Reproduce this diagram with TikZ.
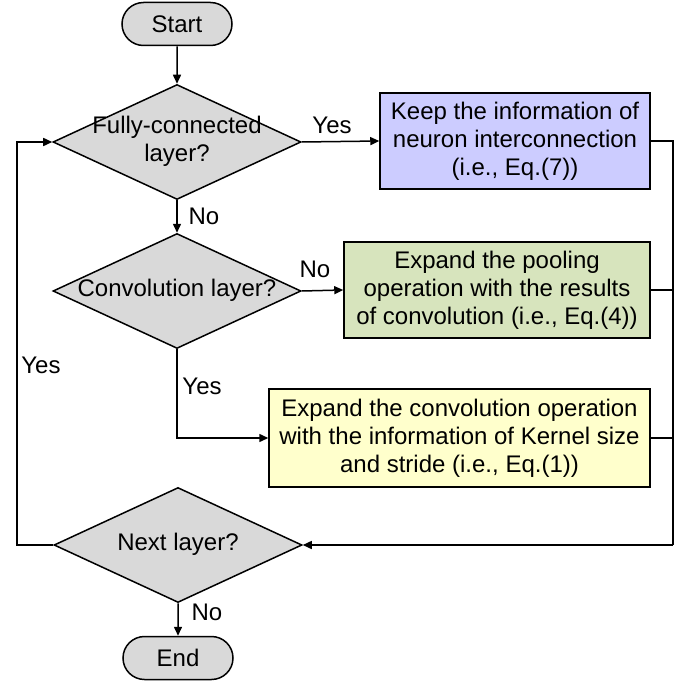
\documentclass[tikz,border=0pt]{standalone}
\usepackage{fontspec}
\setmainfont{Liberation Sans}
\usetikzlibrary{shapes.geometric,shapes.misc,arrows.meta}
\definecolor{gfill}{RGB}{217,217,217}
\definecolor{bfill}{RGB}{204,204,255}
\definecolor{grfill}{RGB}{215,228,189}
\definecolor{yfill}{RGB}{255,255,204}
\newcommand\dtext[1]{\makebox[0pt]{\begin{tabular}{@{}c@{}}#1\end{tabular}}}
\tikzset{
  base/.style={draw=black, line width=1.5bp, inner sep=0pt},
  term/.style={base, rounded rectangle, fill=gfill, minimum width=110bp, minimum height=43bp},
  dia/.style={base, diamond, fill=gfill, minimum width=248bp, minimum height=115bp},
  procbox/.style={base, rectangle, align=center},
  conn/.style={line width=1.5bp},
  arr/.style={conn, -{Triangle[length=9bp,width=8bp]}},
  lbl/.style={inner sep=0pt}
}
\begin{document}
\begin{tikzpicture}[x=1bp,y=-1bp, font=\fontsize{24bp}{28bp}\selectfont]
\useasboundingbox (0,0) rectangle (684,685);
\node[term] (start) at (177,24) {Start};
\node[dia] (d1) at (177,142) {\dtext{Fully-connected\\layer?}};
\node[procbox, fill=bfill, minimum width=270bp, minimum height=96bp] (blue) at (515,141)
  {Keep the information of\\neuron interconnection\\(i.e., Eq.(7))};
\node[dia] (d2) at (177,291) {\dtext{Convolution layer?}};
\node[procbox, fill=grfill, minimum width=306bp, minimum height=96bp] (green) at (497,290)
  {Expand the pooling\\operation with the results\\of convolution (i.e., Eq.(4))};
\node[procbox, fill=yfill, minimum width=381bp, minimum height=98bp] (yellow) at (459.5,438)
  {Expand the convolution operation\\with the information of Kernel size\\and stride (i.e., Eq.(1))};
\node[dia] (d3) at (178,545) {\dtext{Next layer?}};
\node[term] (end) at (178,658) {End};

\coordinate (rtop) at (673,141);
\coordinate (rbot) at (673,545);
\coordinate (ltop) at (17,142);
\coordinate (lbot) at (17,545);

\draw[arr] (start) -- (d1);
\draw[arr] (d1.east) -- (blue.west);
\draw[arr] (d1.south) -- (d2.north);
\draw[arr] (d2.east) -- (green.west);
\draw[arr] (d2.south) -- (d2.south |- yellow.west) -- (yellow.west);
\draw[conn] (blue.east) -- (rtop) -- (rbot);
\draw[conn] (green.east) -- (green.east -| rtop);
\draw[conn] (yellow.east) -- (yellow.east -| rtop);
\draw[arr] (rbot) -- (d3.east);
\draw[arr] (d3.west) -- (lbot) -- (ltop) -- (d1.west);
\draw[arr] (d3.south) -- (end);

\node[lbl] (lyes1) at (332,125) {Yes};
\node[lbl] (lno1) at (204,216) {No};
\node[lbl] (lno2) at (315,269) {No};
\node[lbl] (lyes2) at (202,386) {Yes};
\node[lbl] (lyes3) at (41,365) {Yes};
\node[lbl] (lno3) at (207,612) {No};
\end{tikzpicture}
\end{document}
